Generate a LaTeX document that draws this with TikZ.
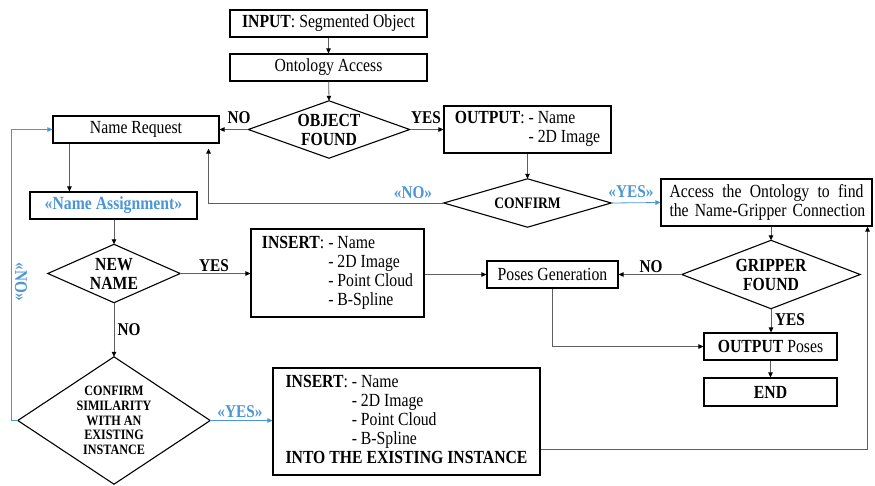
\documentclass[tikz,border=0pt]{standalone}
\usepackage{fontspec}
\setmainfont{Liberation Serif}[FakeStretch=0.85]
\usetikzlibrary{arrows.meta,calc}
\definecolor{lblue}{RGB}{74,150,214}
\definecolor{lgray}{RGB}{95,95,95}
\tikzset{
  box/.style={draw=black, line width=1.1pt, minimum height=27pt, inner sep=0pt,
    align=center, font=\fontsize{18.5}{19}\selectfont},
  dnode/.style={inner sep=0pt, align=center, font=\fontsize{18.5}{19}\selectfont\bfseries},
  dia/.style={draw=black, line width=1.1pt, line join=miter},
  conn/.style={draw=lgray, line width=0.8pt, -{Triangle[length=5pt,width=4.5pt,color=black]}},
  bconn/.style={draw=lblue, line width=0.8pt, -{Triangle[length=5pt,width=4.5pt,color=lblue]}},
  lab/.style={inner sep=0pt, font=\fontsize{18}{19}\selectfont\bfseries},
  blab/.style={lab, text=lblue},
}
\begin{document}
\begin{tikzpicture}[x=1pt,y=-1pt]
\useasboundingbox (0,0) rectangle (875,485);
% boxes
\node[box, minimum width=197pt] (in) at (328.5,23.5) {\textbf{INPUT}: Segmented Object};
\node[box, minimum width=197pt] (oa) at (328.5,67.5) {Ontology Access};
\node[box, minimum width=166pt] (nr) at (136,129.5) {Name Request};
\node[box, minimum width=167pt] (na) at (113.5,205.5) {\textcolor{lblue}{\textbf{«Name Assignment»}}};
\node[box, minimum width=167pt, minimum height=47pt] (out) at (527.5,129.5)
  {\begin{tabular}{@{}l@{\ }l@{}}\textbf{OUTPUT}: & - Name\\ & - 2D Image\end{tabular}};
\node[box, minimum width=211pt, minimum height=47pt, text width=194pt, inner xsep=8.5pt, align=left] (acc) at (766.5,202.5)
  {Access\hfill the\hfill Ontology\hfill to\hfill find\\\mbox{the Name-Gripper Connection}};
\node[box, minimum width=173pt, minimum height=88pt] (ins1) at (337.5,273)
  {\begin{tabular}{@{}l@{\ }l@{}}\textbf{INSERT}: & - Name\\ & - 2D Image\\ & - Point Cloud\\ & - B-Spline\end{tabular}};
\node[box, minimum width=131pt] (pg) at (552.5,274.5) {Poses Generation};
\node[box, minimum width=133pt] (op) at (770.5,346.5) {\textbf{OUTPUT} Poses};
\node[box, minimum width=133pt, minimum height=28pt] (end) at (770.5,392) {\textbf{END}};
\node[box, minimum width=267pt, minimum height=107pt] (ins2) at (406.5,421.5)
  {\begin{tabular}{@{}l@{\ }l@{}}\textbf{INSERT}: & - Name\\ & - 2D Image\\ & - Point Cloud\\ & - B-Spline\\
   \multicolumn{2}{@{}l@{}}{\textbf{INTO THE EXISTING INSTANCE}}\end{tabular}};
% diamonds
\node[dnode, minimum width=161pt, minimum height=57pt] (of) at (329,129.5) {OBJECT\\FOUND};
\node[dnode, minimum width=167pt, minimum height=48pt, font=\fontsize{16}{17}\selectfont\bfseries] (cf) at (527.5,203) {CONFIRM};
\node[dnode, minimum width=132pt, minimum height=58pt] (nn) at (114,273.5) {NEW\\NAME};
\node[dnode, minimum width=192pt, minimum height=127pt, font=\fontsize{14.3}{14.7}\selectfont\bfseries] (cs) at (114,420.5)
  {CONFIRM\\SIMILARITY\\WITH AN\\EXISTING\\INSTANCE};
\node[dnode, minimum width=178pt, minimum height=68pt] (gf) at (771,274.5) {GRIPPER\\FOUND};
\foreach \n in {of,cf,nn,cs,gf}
  \draw[dia] (\n.north) -- (\n.east) -- (\n.south) -- (\n.west) -- cycle;
% connectors
\draw[conn] (in) -- (oa);
\draw[conn] (oa) -- (of.north);
\draw[conn] (of.west) -- (nr.east);
\draw[conn] (of.east) -- (out.west);
\draw[conn] (out) -- (cf.north);
\draw[conn, shorten >=5pt] (cf.west) -| ([xshift=-11pt]nr.south east);
\draw[bconn] (cf.east) -- (acc.west);
\path ([xshift=17pt]nr.south west) coordinate (t1);
\draw[conn] (t1) -- (t1 |- na.north);
\draw[conn] (na.south -| nn.north) -- (nn.north);
\draw[conn] (nn.east) -- (ins1.west |- nn.east);
\draw[conn] (nn.south) -- (cs.north);
\draw[bconn] (cs.west) -- ++(-6,0) |- (nr.west);
\draw[bconn] (cs.east) -- (ins2.west |- cs.east);
\draw[conn] (ins1.east |- pg.west) -- (pg.west);
\draw[conn] (acc.south -| gf.north) -- (gf.north);
\draw[conn] (gf.west) -- (pg.east);
\draw[conn] (gf.south) -- (gf.south |- op.north);
\draw[conn] (op) -- (end);
\draw[conn] (pg.south) |- (op.west);
\draw[conn] ([yshift=-27.5pt]ins2.east) -| ([xshift=-5pt]acc.south east);
% labels
\node[lab] (l1) at (239,118) {NO};
\node[lab] (l2) at (426,118) {YES};
\node[blab] (l3) at (413,193) {«NO»};
\node[blab] (l4) at (631,192) {«YES»};
\node[lab] (l5) at (214,266) {YES};
\node[lab] (l6) at (129,330) {NO};
\node[blab, rotate=-90] (l7) at (21,282) {«NO»};
\node[blab] (l8) at (240,412) {«YES»};
\node[lab] (l9) at (651,267) {NO};
\node[lab] (l10) at (790,320) {YES};
\end{tikzpicture}
\end{document}
